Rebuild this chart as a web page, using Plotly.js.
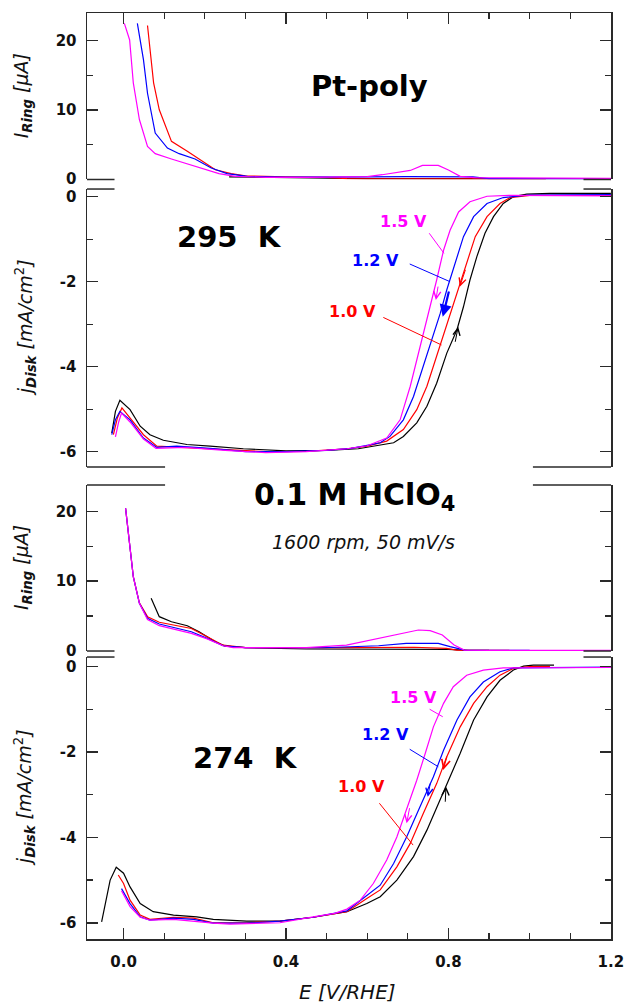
<!DOCTYPE html>
<html><head><meta charset="utf-8">
<script src="https://cdn.plot.ly/plotly-3.0.1.min.js"></script>
<style>html,body{margin:0;padding:0;background:#fff}#chart{width:624px;height:1004px}</style>
</head><body><div id="chart"></div>
<script>
// ---------- Ring current, 295 K (µA) ----------
const ring295_anodic_E = [0.26, 0.4, 0.6, 0.8, 1.0, 1.2];
const ring295_anodic_I = [0.3, 0.2, 0.05, 0.05, 0.05, 0.05];
const ring295_10V_E = [0.059, 0.074, 0.088, 0.118, 0.157, 0.186, 0.226, 0.265, 0.3, 0.4, 0.5, 0.55, 0.7, 0.85, 0.95, 1.04];
const ring295_10V_I = [22.2, 13.9, 10.0, 5.44, 4.0, 2.89, 1.34, 0.77, 0.45, 0.3, 0.25, 0.05, 0.05, 0.0, 0.0, 0.0];
const ring295_12V_E = [0.034, 0.049, 0.059, 0.078, 0.108, 0.137, 0.176, 0.216, 0.255, 0.305, 0.4, 0.5, 0.6, 0.7, 0.8, 0.86, 0.9, 1.0, 1.1, 1.2];
const ring295_12V_I = [22.5, 17.25, 12.4, 6.65, 4.48, 3.66, 2.89, 1.59, 0.77, 0.38, 0.28, 0.25, 0.3, 0.35, 0.35, 0.3, 0.05, 0.0, 0.0, 0.0];
const ring295_15V_E = [0.002, 0.015, 0.024, 0.039, 0.059, 0.078, 0.118, 0.157, 0.196, 0.235, 0.275, 0.35, 0.45, 0.55, 0.6, 0.637, 0.68, 0.706, 0.736, 0.775, 0.8, 0.829, 0.863, 0.95, 1.05, 1.2];
const ring295_15V_I = [22.5, 20.1, 13.9, 8.6, 4.7, 3.66, 2.89, 2.21, 1.45, 0.77, 0.38, 0.25, 0.25, 0.28, 0.35, 0.62, 0.95, 1.24, 1.97, 1.97, 1.3, 0.38, 0.2, 0.15, 0.1, 0.1];

// ---------- Disk current density, 295 K (mA/cm2) ----------
const disk295_anodic_E = [-0.029, -0.02, -0.009, 0.016, 0.041, 0.065, 0.098, 0.156, 0.213, 0.295, 0.4, 0.5, 0.578, 0.615, 0.665, 0.689, 0.722, 0.747, 0.771, 0.796, 0.821, 0.837, 0.853, 0.87, 0.89, 0.911, 0.935, 0.96, 0.993, 1.05, 1.2];
const disk295_anodic_j = [-5.56, -5.05, -4.79, -5.01, -5.4, -5.6, -5.73, -5.83, -5.87, -5.93, -5.98, -5.97, -5.93, -5.87, -5.79, -5.64, -5.32, -4.93, -4.39, -3.68, -3.13, -2.59, -1.96, -1.41, -0.86, -0.47, -0.16, 0.0, 0.06, 0.08, 0.08];
const disk295_10V_E = [-0.025, -0.015, -0.004, 0.02, 0.049, 0.082, 0.15, 0.27, 0.35, 0.45, 0.55, 0.6, 0.648, 0.689, 0.722, 0.747, 0.771, 0.788, 0.808, 0.829, 0.845, 0.866, 0.895, 0.927, 0.952, 1.0, 1.2];
const disk295_10V_j = [-5.6, -5.2, -4.97, -5.25, -5.6, -5.87, -5.9, -5.97, -6.0, -5.99, -5.93, -5.87, -5.75, -5.48, -5.01, -4.46, -3.76, -3.21, -2.66, -2.04, -1.57, -0.94, -0.47, -0.16, -0.02, 0.03, 0.03];
const disk295_12V_E = [-0.029, -0.02, -0.009, 0.016, 0.049, 0.082, 0.131, 0.213, 0.3, 0.4, 0.5, 0.56, 0.6, 0.632, 0.656, 0.689, 0.714, 0.738, 0.755, 0.78, 0.796, 0.817, 0.837, 0.862, 0.895, 0.935, 1.0, 1.2];
const disk295_12V_j = [-5.6, -5.25, -5.05, -5.25, -5.68, -5.9, -5.87, -5.92, -6.0, -6.0, -5.97, -5.92, -5.85, -5.79, -5.64, -5.25, -4.7, -4.0, -3.45, -2.74, -2.19, -1.57, -0.94, -0.47, -0.16, -0.02, 0.04, 0.05];
const disk295_15V_E = [-0.02, -0.012, -0.005, 0.016, 0.049, 0.08, 0.15, 0.25, 0.35, 0.45, 0.55, 0.6, 0.648, 0.681, 0.706, 0.722, 0.738, 0.755, 0.771, 0.788, 0.804, 0.825, 0.853, 0.895, 0.95, 1.2];
const disk295_15V_j = [-5.65, -5.3, -5.09, -5.3, -5.7, -5.92, -5.9, -5.97, -6.02, -6.0, -5.93, -5.86, -5.68, -5.25, -4.46, -3.84, -3.29, -2.59, -1.96, -1.26, -0.79, -0.36, -0.12, 0.01, 0.03, 0.02];

// ---------- Ring current, 274 K (µA) ----------
const ring274_anodic_E = [0.068, 0.088, 0.118, 0.157, 0.186, 0.226, 0.25, 0.3, 0.45, 0.6, 0.8, 0.85, 0.9];
const ring274_anodic_I = [7.54, 4.9, 4.17, 3.6, 2.73, 1.3, 0.67, 0.45, 0.25, 0.2, 0.2, 0.05, 0.05];
const ring274_10V_E = [0.005, 0.015, 0.024, 0.039, 0.059, 0.088, 0.127, 0.167, 0.206, 0.245, 0.3, 0.45, 0.55, 0.716, 0.795, 0.82, 0.85, 0.95];
const ring274_10V_I = [20.5, 15.45, 10.65, 6.9, 4.9, 4.1, 3.7, 3.2, 2.0, 0.8, 0.45, 0.4, 0.45, 0.5, 0.34, 0.1, 0.05, 0.05];
const ring274_12V_E = [0.005, 0.015, 0.024, 0.039, 0.059, 0.088, 0.127, 0.167, 0.206, 0.245, 0.3, 0.4, 0.49, 0.628, 0.696, 0.775, 0.804, 0.84, 0.9, 1.0];
const ring274_12V_I = [20.5, 15.45, 10.65, 6.82, 4.66, 3.84, 3.31, 2.73, 1.78, 0.72, 0.45, 0.43, 0.43, 0.72, 1.06, 1.06, 0.58, 0.1, 0.05, 0.05];
const ring274_15V_E = [0.005, 0.015, 0.024, 0.039, 0.059, 0.088, 0.127, 0.167, 0.206, 0.245, 0.27, 0.35, 0.45, 0.549, 0.628, 0.677, 0.726, 0.755, 0.785, 0.814, 0.839, 0.9, 1.0, 1.2];
const ring274_15V_I = [20.5, 15.45, 10.65, 6.82, 4.5, 3.6, 3.07, 2.5, 1.7, 0.72, 0.45, 0.43, 0.45, 0.82, 1.78, 2.4, 2.98, 2.9, 2.26, 0.82, 0.1, 0.05, 0.05, 0.05];

// ---------- Disk current density, 274 K (mA/cm2) ----------
const disk274_anodic_E = [-0.054, -0.033, -0.018, 0.0, 0.016, 0.041, 0.073, 0.123, 0.18, 0.221, 0.303, 0.385, 0.467, 0.55, 0.599, 0.632, 0.673, 0.714, 0.747, 0.78, 0.804, 0.829, 0.862, 0.895, 0.927, 0.96, 0.985, 1.009, 1.06];
const disk274_anodic_j = [-5.98, -5.0, -4.7, -4.84, -5.16, -5.55, -5.74, -5.82, -5.86, -5.92, -5.96, -5.96, -5.87, -5.74, -5.55, -5.39, -5.0, -4.45, -3.83, -3.13, -2.58, -2.03, -1.25, -0.71, -0.32, -0.08, 0.01, 0.035, 0.035];
const disk274_10V_E = [-0.013, 0.0, 0.016, 0.041, 0.065, 0.123, 0.172, 0.221, 0.303, 0.385, 0.467, 0.55, 0.599, 0.632, 0.673, 0.706, 0.738, 0.771, 0.796, 0.829, 0.862, 0.895, 0.927, 0.96, 1.0, 1.05];
const disk274_10V_j = [-4.88, -5.08, -5.47, -5.82, -5.92, -5.87, -5.89, -6.0, -6.0, -5.96, -5.87, -5.74, -5.43, -5.23, -4.69, -4.14, -3.44, -2.74, -2.11, -1.41, -0.86, -0.47, -0.2, -0.04, 0.0, 0.0];
const disk274_12V_E = [-0.005, 0.016, 0.041, 0.065, 0.123, 0.172, 0.221, 0.303, 0.385, 0.467, 0.55, 0.599, 0.632, 0.665, 0.697, 0.73, 0.763, 0.788, 0.821, 0.853, 0.886, 0.927, 0.96, 1.2];
const disk274_12V_j = [-5.2, -5.55, -5.86, -5.94, -5.89, -5.92, -6.01, -6.01, -5.96, -5.87, -5.72, -5.35, -5.12, -4.61, -3.99, -3.28, -2.58, -1.96, -1.25, -0.71, -0.36, -0.12, -0.03, -0.01];
const disk274_15V_E = [-0.005, 0.016, 0.041, 0.065, 0.123, 0.172, 0.221, 0.262, 0.385, 0.467, 0.52, 0.55, 0.583, 0.615, 0.648, 0.673, 0.697, 0.722, 0.743, 0.763, 0.788, 0.812, 0.845, 0.886, 0.935, 1.2];
const disk274_15V_j = [-5.25, -5.62, -5.87, -5.94, -5.92, -5.97, -6.01, -6.03, -6.0, -5.86, -5.78, -5.68, -5.47, -5.08, -4.53, -3.99, -3.36, -2.66, -2.03, -1.41, -0.86, -0.47, -0.2, -0.08, -0.03, -0.02];

// ---------- Ticks and text ----------
const potentialLabels = ['1.0 V', '1.2 V', '1.5 V'];
const seriesColors = {anodic: '#000000', v10: '#ff0000', v12: '#0000ff', v15: '#ff00ff'};
const xTickValues = [0, 0.4, 0.8, 1.2];
const xTickLabels = ['0.0', '0.4', '0.8', '1.2'];
const ringTickValues = [0, 10, 20];
const ringTickLabels = ['0', '10', '20'];
const diskTickValues = [-6, -4, -2, 0];
const diskTickLabels = ['-6', '-4', '-2', '0'];

const AX = '#2a2a2a';
const FONT = 'DejaVu Sans, Liberation Sans, Arial, sans-serif';

function tr(x, y, yaxis, color) {
  return {x: x, y: y, xaxis: 'x', yaxis: yaxis, type: 'scatter', mode: 'lines',
    line: {color: color, width: 1.2}, showlegend: false, hoverinfo: 'skip'};
}
const data = [
  tr(ring295_anodic_E, ring295_anodic_I, 'y', seriesColors.anodic),
  tr(ring295_10V_E, ring295_10V_I, 'y', seriesColors.v10),
  tr(ring295_12V_E, ring295_12V_I, 'y', seriesColors.v12),
  tr(ring295_15V_E, ring295_15V_I, 'y', seriesColors.v15),
  tr(disk295_anodic_E, disk295_anodic_j, 'y2', seriesColors.anodic),
  tr(disk295_10V_E, disk295_10V_j, 'y2', seriesColors.v10),
  tr(disk295_12V_E, disk295_12V_j, 'y2', seriesColors.v12),
  tr(disk295_15V_E, disk295_15V_j, 'y2', seriesColors.v15),
  tr(ring274_anodic_E, ring274_anodic_I, 'y3', seriesColors.anodic),
  tr(ring274_10V_E, ring274_10V_I, 'y3', seriesColors.v10),
  tr(ring274_12V_E, ring274_12V_I, 'y3', seriesColors.v12),
  tr(ring274_15V_E, ring274_15V_I, 'y3', seriesColors.v15),
  tr(disk274_anodic_E, disk274_anodic_j, 'y4', seriesColors.anodic),
  tr(disk274_10V_E, disk274_10V_j, 'y4', seriesColors.v10),
  tr(disk274_12V_E, disk274_12V_j, 'y4', seriesColors.v12),
  tr(disk274_15V_E, disk274_15V_j, 'y4', seriesColors.v15),
  {x: [], y: [], xaxis: 'x2', yaxis: 'y', type: 'scatter', mode: 'lines', showlegend: false, hoverinfo: 'skip'}
];

const tickFont = {family: FONT, size: 15, color: '#111', weight: 'bold'};
function yax(domain, range, tv, tt, minorDtick) {
  return {domain: domain, range: range, anchor: 'x', tickmode: 'array', tickvals: tv, ticktext: tt,
    showline: true, mirror: 'ticks', linecolor: AX, linewidth: 1.5,
    ticks: 'inside', ticklen: 11, tickwidth: 1.5, tickcolor: AX,
    minor: {dtick: minorDtick, tick0: 0, ticks: 'inside', ticklen: 6, tickwidth: 1.2, tickcolor: AX, showgrid: false},
    showgrid: false, zeroline: false, tickfont: tickFont, ticklabelstandoff: 6, fixedrange: true};
}

const annotations = [];
function txt(text, x, y, xref, yref, size, color, opts) {
  annotations.push(Object.assign({text: text, x: x, y: y, xref: xref, yref: yref, showarrow: false,
    font: {family: FONT, size: size, color: color}, xanchor: 'center', yanchor: 'middle'}, opts || {}));
}
function arr(x, y, ax, ay, yref, color, head, width, size) {
  annotations.push({text: '', x: x, y: y, ax: ax, ay: ay, xref: 'x', yref: yref, axref: 'x', ayref: yref,
    showarrow: true, arrowhead: head, arrowcolor: color, arrowwidth: width, arrowsize: size || 1});
}

// Panel titles and notes
txt('<b>Pt-poly</b>', 0.540, 0.921, 'paper', 'paper', 29, '#000');
txt('<b>295  K</b>', 0.271, 0.758, 'paper', 'paper', 29, '#000');
txt('<b>274  K</b>', 0.303, 0.1955, 'paper', 'paper', 29, '#000');
txt('<b>0.1 M HClO<sub>4</sub></b>', 0.51, 0.478, 'paper', 'paper', 30, '#000');
txt('<i>1600 rpm, 50 mV/s</i>', 0.5286, 0.429, 'paper', 'paper', 19, '#111');
// Axis titles
txt('<i>I</i><sub><b><i>Ring</i></b></sub><i> [μA]</i>', -0.124, 0.910, 'paper', 'paper', 19, '#111', {textangle: -90});
txt('<i>I</i><sub><b><i>Ring</i></b></sub><i> [μA]</i>', -0.124, 0.4006, 'paper', 'paper', 19, '#111', {textangle: -90});
txt('<i>j</i><sub><b><i>Disk</i></b></sub><i> [mA/cm</i><sup>2</sup><i>]</i>', -0.118, 0.6598, 'paper', 'paper', 19, '#111', {textangle: -90});
txt('<i>j</i><sub><b><i>Disk</i></b></sub><i> [mA/cm</i><sup>2</sup><i>]</i>', -0.118, 0.1523, 'paper', 'paper', 19, '#111', {textangle: -90});
txt('<i>E [V/RHE]</i>', 0.498, -0.057, 'paper', 'paper', 20, '#111');

// Potential labels, 295 K
txt('<b>' + potentialLabels[2] + '</b>', 0.69, -0.59, 'x', 'y2', 16, seriesColors.v15);
txt('<b>' + potentialLabels[1] + '</b>', 0.6215, -1.49, 'x', 'y2', 16, seriesColors.v12);
txt('<b>' + potentialLabels[0] + '</b>', 0.564, -2.706, 'x', 'y2', 16, seriesColors.v10);
arr(0.789, -1.333, 0.750, -0.825, 'y2', seriesColors.v15, 0, 1);
arr(0.804, -2.0, 0.701, -1.568, 'y2', seriesColors.v12, 0, 1);
arr(0.783, -3.489, 0.636, -2.824, 'y2', seriesColors.v10, 0, 1);
arr(0.769, -2.43, 0.775, -2.08, 'y2', seriesColors.v15, 5, 1, 1.4);
arr(0.786, -2.824, 0.802, -2.196, 'y2', seriesColors.v12, 2, 2.2, 1.1);
arr(0.828, -2.118, 0.843, -1.686, 'y2', seriesColors.v10, 5, 1, 1.4);
arr(0.824, -3.059, 0.816, -3.45, 'y2', seriesColors.anodic, 5, 1, 1.4);

// Potential labels, 274 K
txt('<b>' + potentialLabels[2] + '</b>', 0.715, -0.712, 'x', 'y4', 16, seriesColors.v15);
txt('<b>' + potentialLabels[1] + '</b>', 0.646, -1.60, 'x', 'y4', 16, seriesColors.v12);
txt('<b>' + potentialLabels[0] + '</b>', 0.587, -2.814, 'x', 'y4', 16, seriesColors.v10);
arr(0.786, -1.174, 0.750, -0.977, 'y4', seriesColors.v15, 0, 1);
arr(0.775, -2.345, 0.701, -1.914, 'y4', seriesColors.v12, 0, 1);
arr(0.713, -4.18, 0.627, -3.165, 'y4', seriesColors.v10, 0, 1);
arr(0.697, -3.67, 0.705, -3.28, 'y4', seriesColors.v15, 5, 1, 1.4);
arr(0.749, -3.05, 0.756, -2.70, 'y4', seriesColors.v12, 5, 1, 1.4);
arr(0.787, -2.42, 0.797, -2.07, 'y4', seriesColors.v10, 5, 1.2, 1.4);
arr(0.794, -2.81, 0.792, -3.2, 'y4', seriesColors.anodic, 5, 1, 1.4);

// Broken-axis marks
function seg(x0, x1, y) {
  return {type: 'line', xref: 'paper', yref: 'paper', x0: x0, x1: x1, y0: y, y1: y, line: {color: AX, width: 1.5}};
}
const D = {p1b: 0.8202, p2t: 0.8099, p2b: 0.5097, p3t: 0.4903, p3b: 0.3110, p4t: 0.3045};
const shapes = [
  seg(0, 0.0525, D.p1b), seg(0.9475, 1, D.p1b),
  seg(0, 0.0525, D.p2t), seg(0.9475, 1, D.p2t),
  seg(0, 0.149, D.p2b), seg(0.851, 1, D.p2b),
  seg(0, 0.149, D.p3t), seg(0.851, 1, D.p3t),
  seg(0, 0.0525, D.p3b), seg(0.9475, 1, D.p3b),
  seg(0, 0.0525, D.p4t), seg(0.9475, 1, D.p4t)
];

const xCommon = {range: [-0.09, 1.2003], showline: true, linecolor: AX, linewidth: 1.5,
  tickmode: 'array', tickvals: xTickValues, ticktext: xTickLabels,
  ticks: 'inside', ticklen: 11, tickwidth: 1.5, tickcolor: AX, showgrid: false, zeroline: false,
  minor: {dtick: 0.1, tick0: 0, ticks: 'inside', ticklen: 6, tickwidth: 1.2, tickcolor: AX, showgrid: false},
  fixedrange: true};

const layout = {
  width: 624, height: 1004,
  margin: {l: 87, r: 13, t: 13, b: 65},
  paper_bgcolor: '#ffffff', plot_bgcolor: '#ffffff',
  showlegend: false,
  font: {family: FONT},
  xaxis: Object.assign({}, xCommon, {anchor: 'y4', tickfont: tickFont, ticklabelstandoff: 8, ticklabeloverflow: 'allow', automargin: false}),
  xaxis2: Object.assign({}, xCommon, {anchor: 'y', overlaying: 'x', side: 'top', showticklabels: false}),
  yaxis: yax([D.p1b, 1], [-0.07, 24.0], ringTickValues, ringTickLabels, 5),
  yaxis2: yax([D.p2b, D.p2t], [-6.36, 0.18], diskTickValues, diskTickLabels, 1),
  yaxis3: yax([D.p3b, D.p3t], [-0.04, 23.84], ringTickValues, ringTickLabels, 5),
  yaxis4: yax([0, D.p4t], [-6.38, 0.225], diskTickValues, diskTickLabels, 1),
  annotations: annotations,
  shapes: shapes
};

Plotly.newPlot('chart', data, layout, {staticPlot: true, displayModeBar: false});
</script>
</body></html>
